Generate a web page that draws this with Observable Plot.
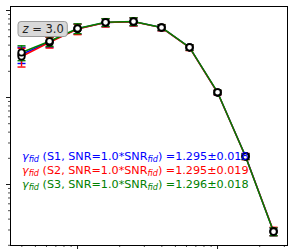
<!DOCTYPE html>
<html>
<head>
<meta charset="utf-8">
<script src="https://cdn.jsdelivr.net/npm/d3@7"></script>
<script src="https://cdn.jsdelivr.net/npm/@observablehq/plot@0.6"></script>
<style>
  html, body { margin: 0; padding: 0; background: #fff; }
</style>
</head>
<body>
<div id="chart"></div>
<script>
// ---- data ----
const xValues = [0.398, 0.631, 1.0, 1.585, 2.512, 3.981, 6.310, 10.0, 15.85, 25.12];

const seriesNames = ["S1", "S2", "S3"];
const seriesColors = ["#0000ff", "#ff0000", "#008000"];

const s1Values = [0.312, 0.436, 0.616, 0.728, 0.745, 0.637, 0.377, 0.114, 0.0211, 0.00288];
const s2Values = [0.296, 0.430, 0.612, 0.726, 0.744, 0.636, 0.375, 0.114, 0.0210, 0.00290];
const s3Values = [0.329, 0.443, 0.622, 0.731, 0.748, 0.639, 0.377, 0.115, 0.0210, 0.00287];

const s1Errors = [0.066, 0.058, 0.082, 0.076, 0.078, 0.050, 0.028, 0.0065, 0.0016, 0.00030];
const s2Errors = [0.072, 0.060, 0.084, 0.080, 0.080, 0.052, 0.029, 0.0068, 0.0017, 0.00032];
const s3Errors = [0.064, 0.056, 0.080, 0.074, 0.076, 0.049, 0.027, 0.0064, 0.0016, 0.00029];

const gammaValues = ["1.295±0.018", "1.295±0.019", "1.296±0.018"];
const snrFactors = ["1.0", "1.0", "1.0"];
const redshiftLabel = "3.0";

const xMajorTicks = [1, 10];
const yMajorTicks = [0.01, 0.1, 1];

// ---- build table ----
const allValues = [s1Values, s2Values, s3Values];
const allErrors = [s1Errors, s2Errors, s3Errors];
const rows = [];
seriesNames.forEach((name, i) => {
  xValues.forEach((x, j) => {
    const y = allValues[i][j], e = allErrors[i][j];
    rows.push({series: name, color: seriesColors[i], x, y, lo: y - e, hi: y + e});
  });
});

const minorsOf = (majors, lo, hi) => {
  const out = [];
  for (const m of [majors[0] / 10, ...majors]) {
    for (let k = 2; k <= 9; k++) { const v = m * k; if (v > lo && v < hi) out.push(v); }
  }
  return out;
};
const xDomain = [0.332, 31.6];
const yDomain = [0.00199, 1.112];
const xMinorTicks = minorsOf(xMajorTicks, ...xDomain);
const yMinorTicks = minorsOf(yMajorTicks, ...yDomain);

const capSymbol = { draw(ctx) { ctx.moveTo(-4, 0); ctx.lineTo(4, 0); } };

const marks = [];
seriesNames.forEach((name, i) => {
  const d = rows.filter(r => r.series === name);
  marks.push(Plot.line(d, {x: "x", y: "y", stroke: seriesColors[i], strokeWidth: 1.5}));
  marks.push(Plot.ruleX(d, {x: "x", y1: "lo", y2: "hi", stroke: seriesColors[i], strokeWidth: 1.4}));
  marks.push(Plot.dot(d, {x: "x", y: "lo", symbol: capSymbol, fill: "none", stroke: seriesColors[i], strokeWidth: 1.4}));
  marks.push(Plot.dot(d, {x: "x", y: "hi", symbol: capSymbol, fill: "none", stroke: seriesColors[i], strokeWidth: 1.4}));
});
seriesNames.forEach((name) => {
  marks.push(Plot.dot(rows.filter(r => r.series === name), {x: "x", y: "y", r: 3.2, fill: "white", stroke: "black", strokeWidth: 1.8}));
});

const chart = Plot.plot({
  width: 295,
  height: 249,
  marginLeft: 10,
  marginRight: 8,
  marginTop: 6,
  marginBottom: 4,
  x: {type: "log", domain: xDomain, axis: null},
  y: {type: "log", domain: yDomain, axis: null},
  style: {background: "white", color: "black", fontFamily: "'DejaVu Sans', sans-serif"},
  marks: [
    ...marks,
    Plot.axisX({ticks: xMajorTicks, anchor: "bottom", tickSize: 4, tickFormat: () => "", label: null, strokeWidth: 0.9}),
    Plot.axisX({ticks: xMinorTicks, anchor: "bottom", tickSize: 2, tickFormat: () => "", label: null, strokeWidth: 0.7}),
    Plot.axisY({ticks: yMajorTicks, anchor: "left", tickSize: 4, tickFormat: () => "", label: null, strokeWidth: 0.9}),
    Plot.axisY({ticks: yMinorTicks, anchor: "left", tickSize: 2, tickFormat: () => "", label: null, strokeWidth: 0.7}),
    Plot.frame({stroke: "black", strokeWidth: 1})
  ]
});
document.getElementById("chart").appendChild(chart);

// ---- annotations ----
const FONT = "'DejaVu Sans', sans-serif";
const svg = d3.select(chart);
const zg = svg.append("g").attr("text-anchor", "start").attr("font-family", FONT);
const zt = zg.append("text").attr("x", 22.5).attr("y", 33).attr("font-size", 11.5).attr("fill", "#222");
zt.append("tspan").attr("font-style", "italic").text("z");
zt.append("tspan").text(" = " + redshiftLabel);
const bb = zt.node().getBBox();
zg.insert("rect", "text")
  .attr("x", bb.x - 3.5).attr("y", 21.5)
  .attr("width", bb.width + 7).attr("height", 15)
  .attr("rx", 3).attr("fill", "#d9d9d9").attr("stroke", "#9a9a9a").attr("stroke-width", 1);

const baselines = [159.5, 174, 187.5];
const ag = svg.append("g").attr("text-anchor", "start").attr("font-family", FONT);
seriesNames.forEach((name, i) => {
  const t = ag.append("text").attr("x", 22).attr("y", baselines[i]).attr("font-size", 11.2).attr("fill", seriesColors[i]);
  t.append("tspan").attr("font-style", "italic").text("γ");
  t.append("tspan").attr("font-style", "italic").attr("font-size", 8.1).attr("dy", 2).text("fid");
  t.append("tspan").attr("dy", -2).text(` (${name}, SNR=${snrFactors[i]}*SNR`);
  t.append("tspan").attr("font-style", "italic").attr("font-size", 8.1).attr("dy", 2).text("fid");
  t.append("tspan").attr("dy", -2).text(`) =${gammaValues[i]}`);
});
</script>
</body>
</html>
